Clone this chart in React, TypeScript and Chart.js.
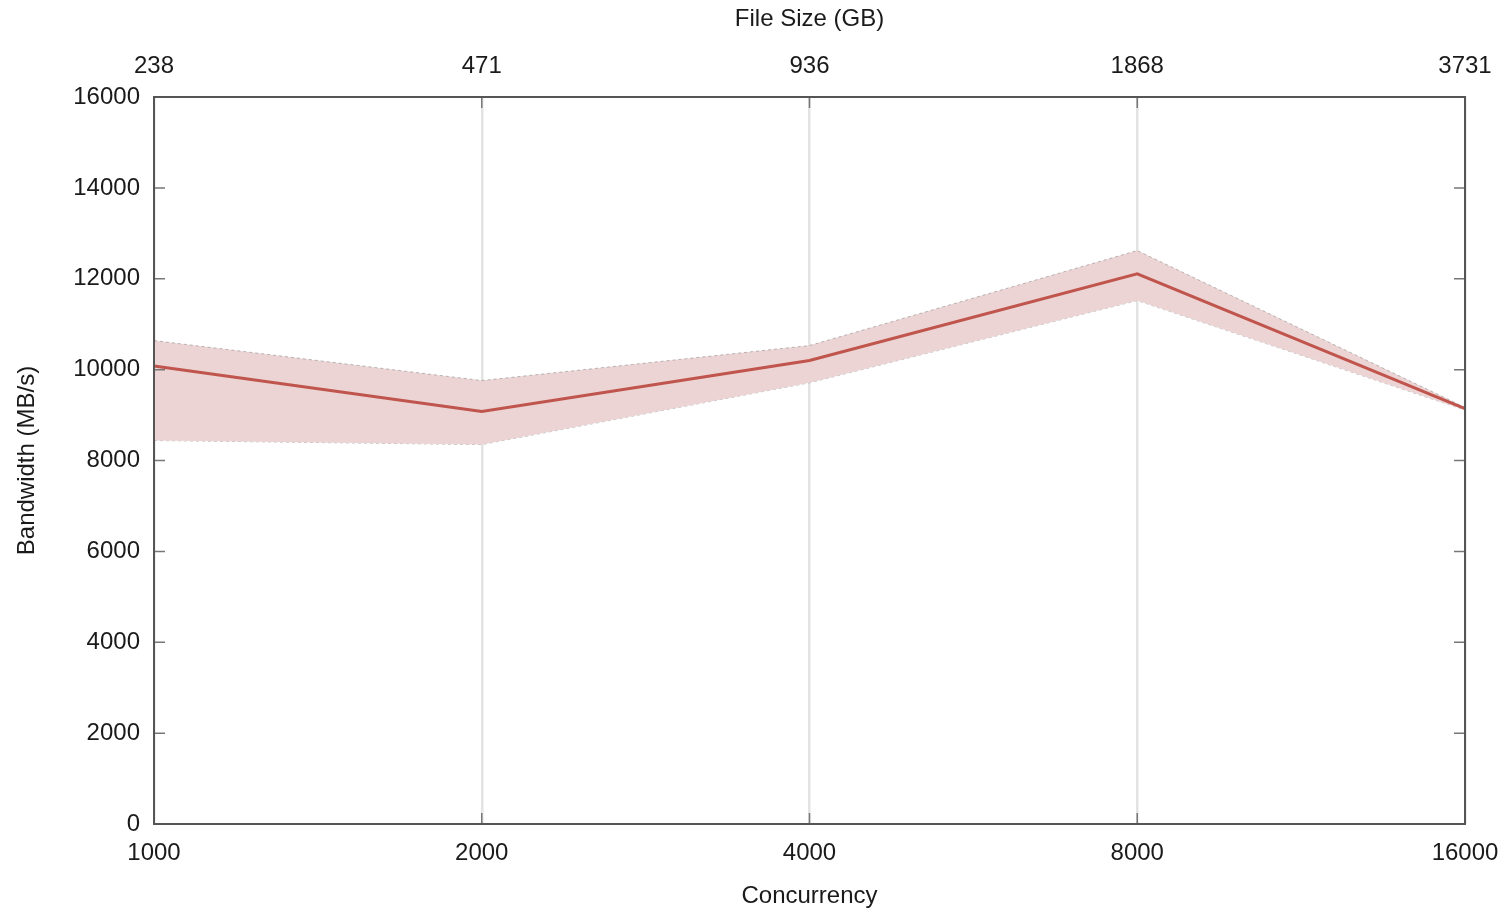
import React, { useEffect, useRef } from "react";
import { Chart, registerables } from "chart.js";

Chart.register(...registerables);

const concurrency = ["1000", "2000", "4000", "8000", "16000"];
const fileSizeGB = ["238", "471", "936", "1868", "3731"];
const meanBandwidth = [10080, 9080, 10200, 12110, 9140];
const upperBandwidth = [10640, 9760, 10530, 12620, 9170];
const lowerBandwidth = [8440, 8350, 9710, 11520, 9110];

const FONT = "'Liberation Sans', Arial, Helvetica, sans-serif";
const TEXT = "#1a1a1a";

const framePlugin = {
  id: "frame",
  afterDraw(chart: any) {
    const { ctx, chartArea: a, scales } = chart;
    ctx.save();
    ctx.strokeStyle = "#777";
    ctx.lineWidth = 1.5;
    ctx.beginPath();
    const ys = scales.y;
    ys.ticks.forEach((t: any) => {
      const py = ys.getPixelForValue(t.value);
      ctx.moveTo(a.left, py);
      ctx.lineTo(a.left + 11, py);
      ctx.moveTo(a.right, py);
      ctx.lineTo(a.right - 11, py);
    });
    const xs = scales.x;
    xs.ticks.forEach((_t: any, i: number) => {
      const px = xs.getPixelForTick(i);
      ctx.moveTo(px, a.bottom);
      ctx.lineTo(px, a.bottom - 11);
      ctx.moveTo(px, a.top);
      ctx.lineTo(px, a.top + 11);
    });
    ctx.stroke();
    ctx.strokeStyle = "#555";
    ctx.lineWidth = 2;
    ctx.strokeRect(a.left, a.top, a.right - a.left, a.bottom - a.top);
    ctx.restore();
  },
};

export default function App() {
  const canvasRef = useRef<HTMLCanvasElement | null>(null);

  useEffect(() => {
    if (!canvasRef.current) return;
    const chart = new Chart(canvasRef.current, {
      type: "line",
      data: {
        labels: concurrency,
        datasets: [
          {
            label: "Mean",
            data: meanBandwidth,
            borderColor: "#c0554d",
            borderWidth: 3,
            pointRadius: 0,
            fill: false,
            xAxisID: "x",
            yAxisID: "y",
          },
          {
            label: "Upper",
            data: upperBandwidth,
            borderColor: "rgba(110,110,110,0.45)",
            borderWidth: 1,
            borderDash: [3, 3],
            backgroundColor: "rgba(236,212,212,1)",
            pointRadius: 0,
            fill: "+1",
            xAxisID: "x",
            yAxisID: "y",
          },
          {
            label: "Lower",
            data: lowerBandwidth,
            borderColor: "rgba(110,110,110,0.45)",
            borderWidth: 1,
            borderDash: [3, 3],
            pointRadius: 0,
            fill: false,
            xAxisID: "x",
            yAxisID: "y",
          },
        ],
      },
      options: {
        animation: false,
        responsive: false,
        maintainAspectRatio: false,
        layout: { padding: 0 },
        plugins: {
          legend: { display: false },
          tooltip: { enabled: false },
          title: { display: false },
        },
        scales: {
          x: {
            type: "category",
            position: "bottom",
            offset: false,
            grid: { display: true, color: "#e3e3e3", lineWidth: 2.5, drawTicks: false },
            border: { display: false },
            ticks: {
              color: TEXT,
              font: { family: FONT, size: 24 },
              padding: 15,
              maxRotation: 0,
              autoSkip: false,
            },
            title: {
              display: true,
              text: "Concurrency",
              color: TEXT,
              font: { family: FONT, size: 24 },
              padding: { top: 0, bottom: 1 },
            },
            afterFit: (s: any) => {
              s.height = 88;
              s.paddingLeft = 0;
              s.paddingRight = 0;
            },
          },
          x2: {
            type: "category",
            position: "top",
            labels: fileSizeGB,
            offset: false,
            grid: { display: false, drawTicks: false },
            border: { display: false },
            ticks: {
              color: TEXT,
              font: { family: FONT, size: 24 },
              padding: 16,
              maxRotation: 0,
              autoSkip: false,
            },
            title: {
              display: true,
              text: "File Size (GB)",
              color: TEXT,
              font: { family: FONT, size: 24 },
              padding: { top: 5, bottom: 0 },
            },
            afterFit: (s: any) => {
              s.height = 97;
              s.paddingLeft = 0;
              s.paddingRight = 0;
            },
          },
          y: {
            type: "linear",
            position: "left",
            min: 0,
            max: 16000,
            grid: { display: false, drawTicks: false },
            border: { display: false },
            ticks: {
              stepSize: 2000,
              color: TEXT,
              font: { family: FONT, size: 24 },
              padding: 14,
              callback: (v: any) => String(v),
            },
            title: {
              display: true,
              text: "Bandwidth (MB/s)",
              color: TEXT,
              font: { family: FONT, size: 24 },
              padding: { top: 13, bottom: 0 },
            },
            afterFit: (s: any) => {
              s.width = 154;
              s.paddingTop = 0;
              s.paddingBottom = 0;
            },
          },
          y2: {
            type: "linear",
            position: "right",
            min: 0,
            max: 16000,
            grid: { display: false, drawTicks: false },
            border: { display: false },
            ticks: { display: false },
            afterFit: (s: any) => {
              s.width = 38;
              s.paddingTop = 0;
              s.paddingBottom = 0;
            },
          },
        },
      },
      plugins: [framePlugin],
    });
    return () => chart.destroy();
  }, []);

  return (
    <div
      style={{
        position: "fixed",
        left: 0,
        top: 0,
        width: 1503,
        height: 912,
        background: "#ffffff",
        overflow: "hidden",
      }}
    >
      <canvas ref={canvasRef} width={1503} height={912} style={{ display: "block" }} />
    </div>
  );
}
